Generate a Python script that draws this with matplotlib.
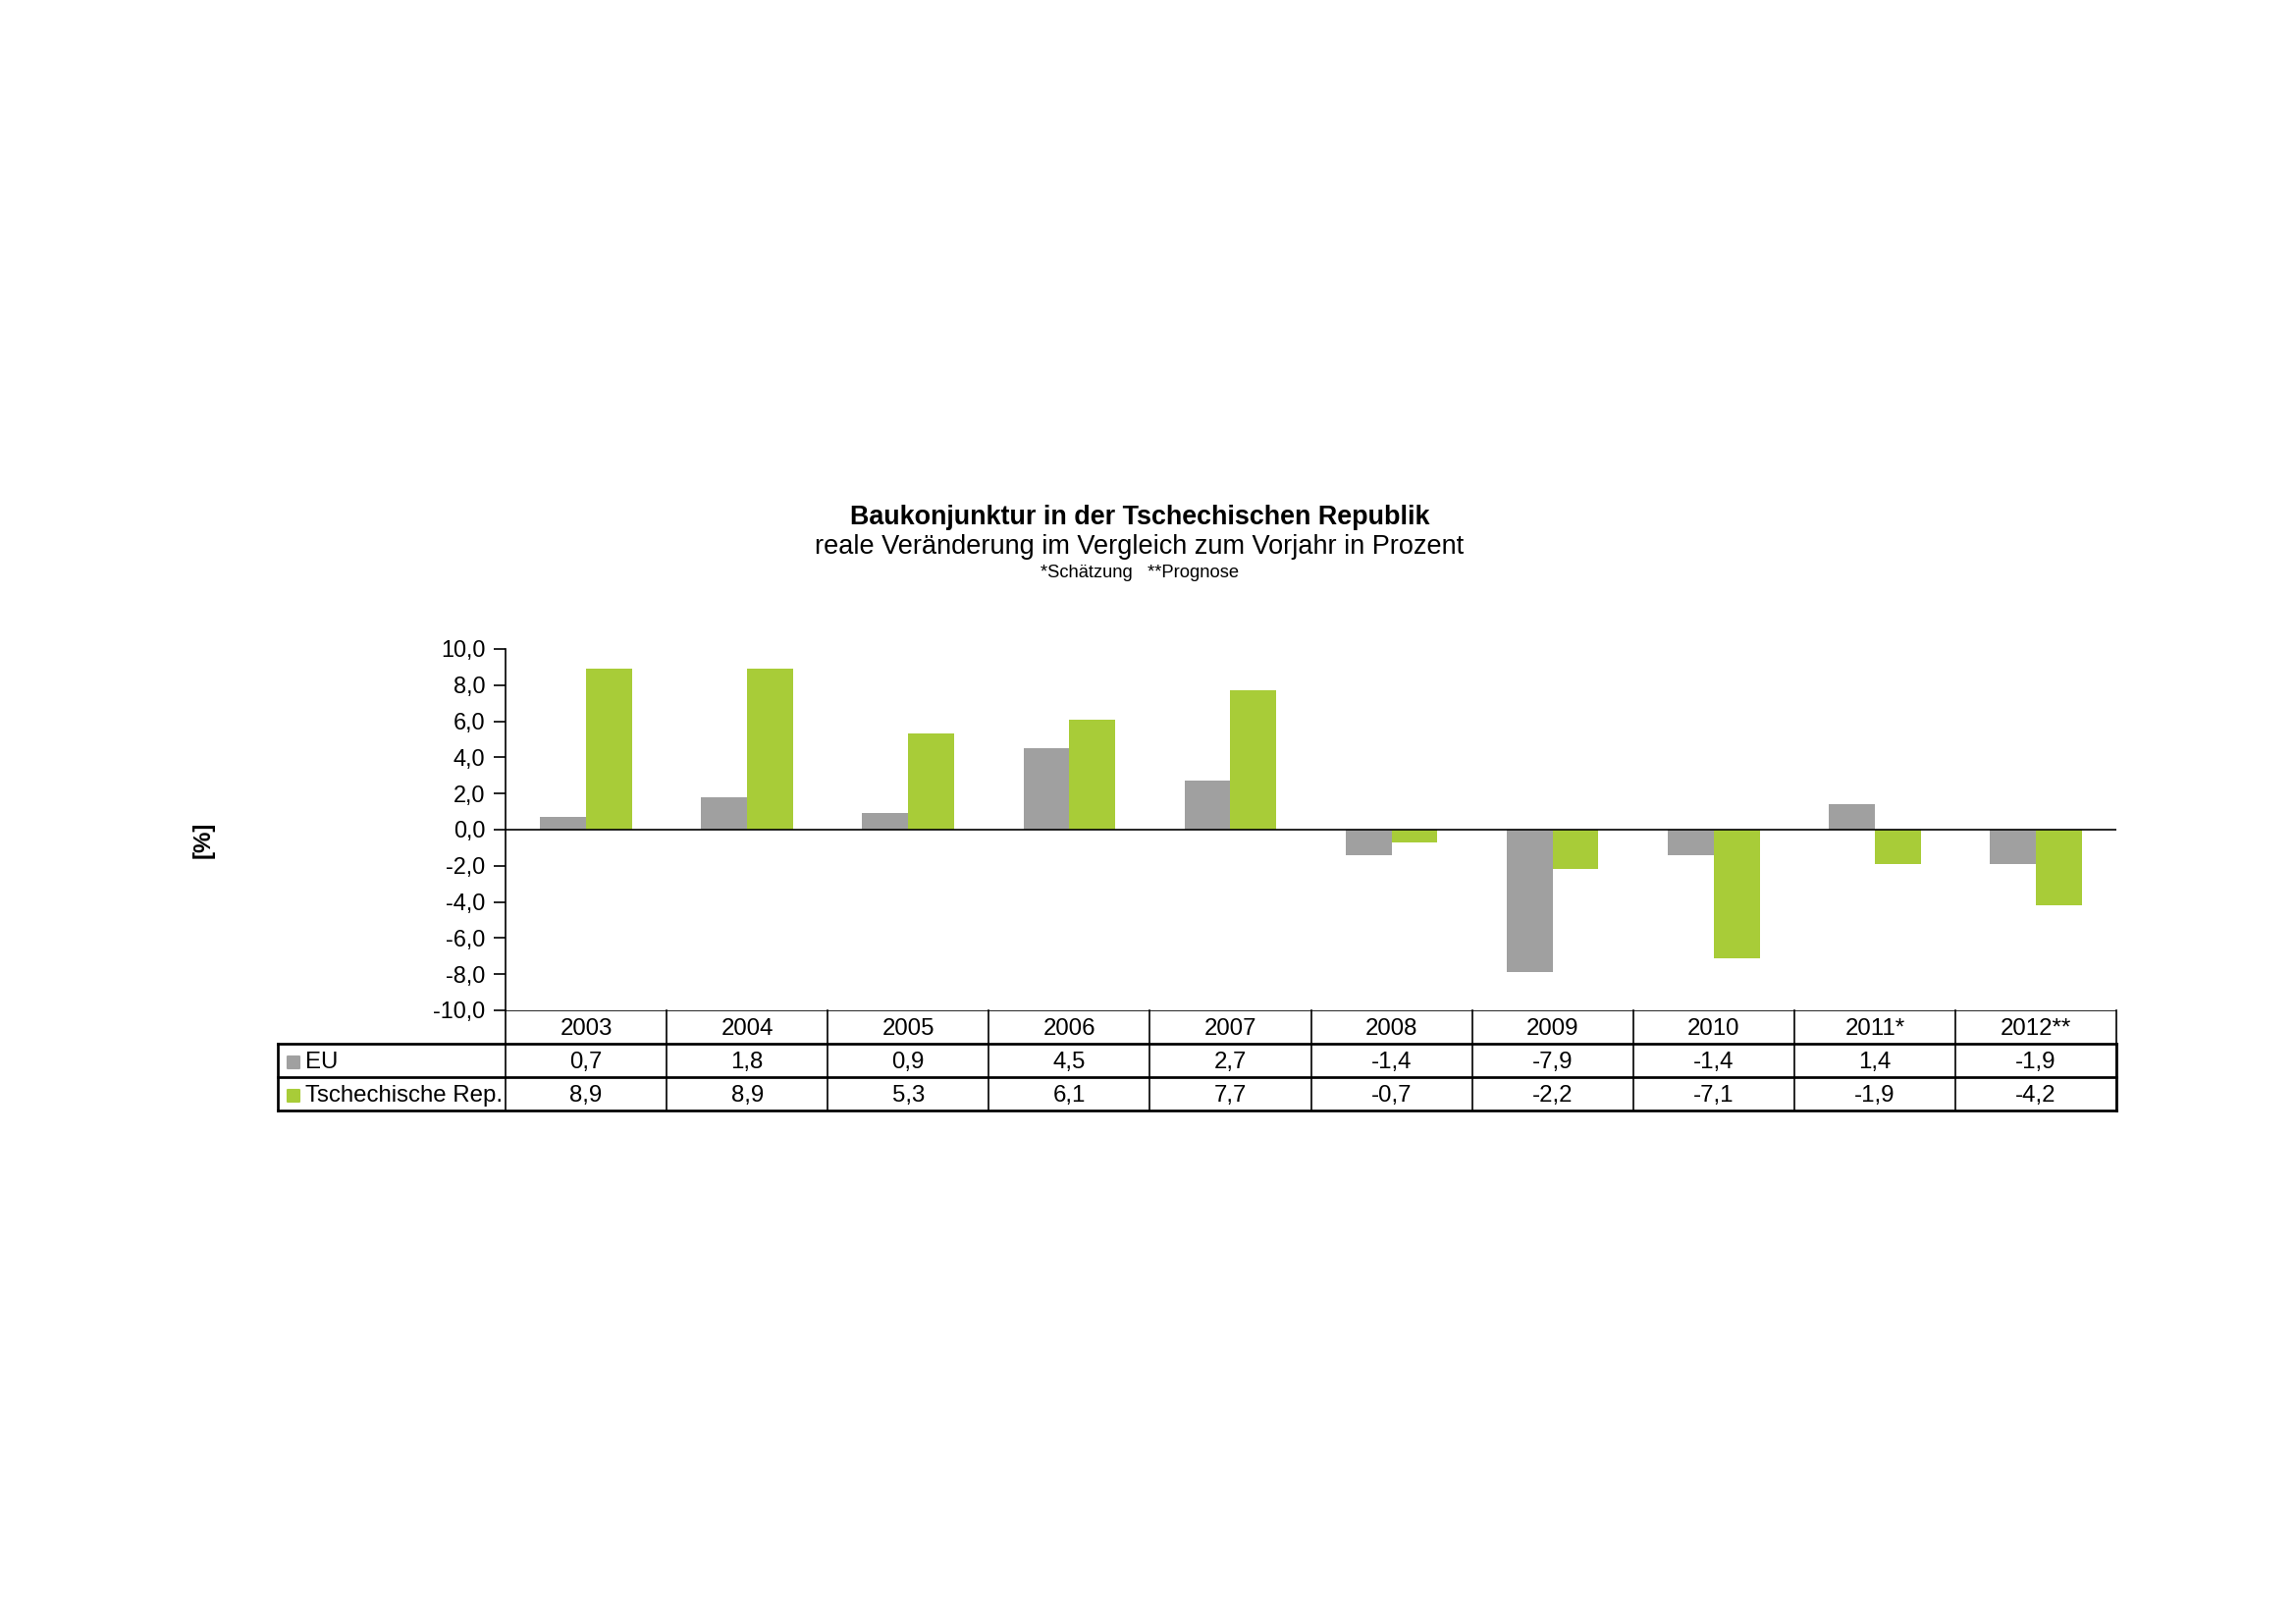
import numpy as np
import matplotlib.pyplot as plt

plt.rcParams['font.family'] = ['Liberation Sans', 'DejaVu Sans']

# data
years = ['2003', '2004', '2005', '2006', '2007', '2008', '2009', '2010', '2011*', '2012**']
eu = [0.7, 1.8, 0.9, 4.5, 2.7, -1.4, -7.9, -1.4, 1.4, -1.9]
cz = [8.9, 8.9, 5.3, 6.1, 7.7, -0.7, -2.2, -7.1, -1.9, -4.2]
series_names = ['EU', 'Tschechische Rep.']

grey = '#a0a0a0'
green = '#a8cc38'

W, H = 2339, 1654
fig = plt.figure(figsize=(W / 150, H / 150), dpi=150)

x0, x1 = 515, 2156
ytop, ybot = 661, 1029
ax = fig.add_axes([x0 / W, 1 - ybot / H, (x1 - x0) / W, (ybot - ytop) / H])

x = np.arange(len(years))
bw = 0.285
ax.bar(x - bw / 2, eu, bw, color=grey, label=series_names[0])
ax.bar(x + bw / 2, cz, bw, color=green, label=series_names[1])
ax.axhline(0, color='black', lw=0.8)

ax.set_xlim(-0.5, len(years) - 0.5)
ax.set_ylim(-10, 10)
ax.set_yticks(np.arange(-10, 11, 2))
ax.set_yticklabels([('%.1f' % v).replace('.', ',') for v in np.arange(-10, 11, 2)], fontsize=11.3)
ax.tick_params(axis='y', direction='out', length=6, width=0.8, pad=4)
ax.set_xticks([])
for s in ['top', 'right', 'bottom']:
    ax.spines[s].set_visible(False)
ax.spines['left'].set_linewidth(0.8)

fig.text(207 / W, 1 - 855 / H, '[%]', rotation=90, fontsize=11.5, fontweight='bold',
         ha='center', va='center')

# titles
xc = 1161 / W
fig.text(xc, 1 - 527 / H, 'Baukonjunktur in der Tschechischen Republik',
         fontsize=12.9, fontweight='bold', ha='center', va='center')
fig.text(xc, 1 - 557 / H, 'reale Veränderung im Vergleich zum Vorjahr in Prozent',
         fontsize=13, ha='center', va='center')
fig.text(xc, 1 - 583 / H, '*Schätzung   **Prognose', fontsize=8.8, ha='center', va='center')

# data table below the chart
tb = 1131
tax = fig.add_axes([x0 / W, 1 - tb / H, (x1 - x0) / W, (tb - ybot) / H], sharex=ax)
tax.set_ylim(3, 0)
tax.axis('off')
lab_left = -0.5 - (x0 - 283) / ((x1 - x0) / len(years))

# header row
tax.plot([-0.5, len(years) - 0.5], [0, 0], color='black', lw=0.8)
for i in range(len(years) + 1):
    tax.plot([i - 0.5, i - 0.5], [0, 3], color='black', lw=0.8, clip_on=False)
for r in [1, 2, 3]:
    tax.plot([lab_left, len(years) - 0.5], [r, r], color='black', lw=1.3, clip_on=False)
tax.plot([lab_left, lab_left], [1, 3], color='black', lw=1.3, clip_on=False)
tax.plot([len(years) - 0.5] * 2, [1, 3], color='black', lw=1.3, clip_on=False)

fs = 11.5
for i, yr in enumerate(years):
    tax.text(i, 0.55, yr, ha='center', va='center', fontsize=fs)
    tax.text(i, 1.55, ('%.1f' % eu[i]).replace('.', ','), ha='center', va='center', fontsize=fs)
    tax.text(i, 2.55, ('%.1f' % cz[i]).replace('.', ','), ha='center', va='center', fontsize=fs)

for r, (name, col) in enumerate(zip(series_names, [grey, green])):
    tax.scatter([lab_left + 0.1], [1.55 + r], marker='s', s=30, color=col, clip_on=False)
    tax.text(lab_left + 0.17, 1.55 + r, name, ha='left', va='center', fontsize=fs)

fig.savefig('out.png', dpi=150)
